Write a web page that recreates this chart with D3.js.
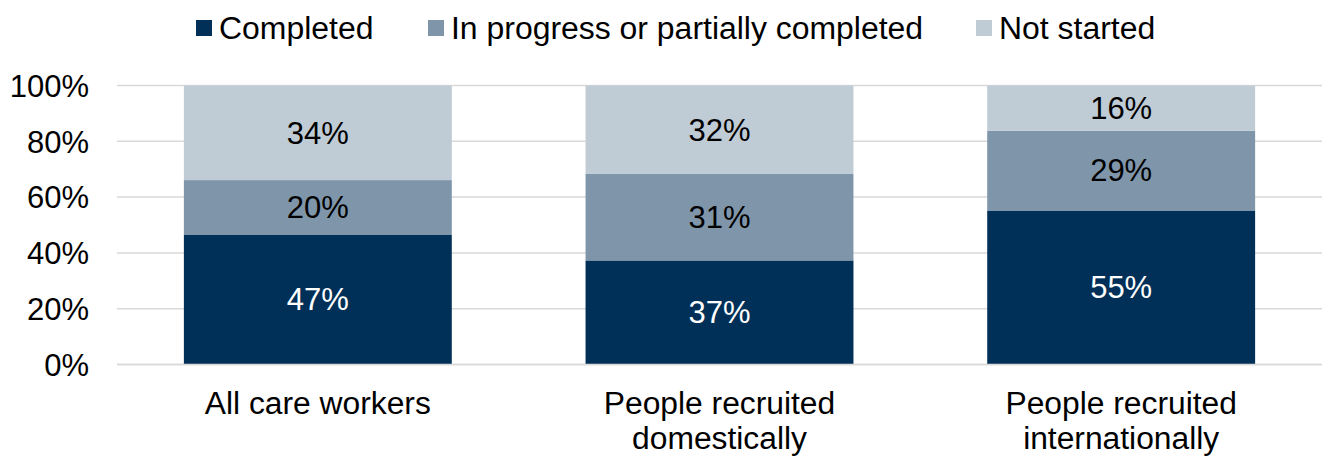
<!DOCTYPE html>
<html><head><meta charset="utf-8">
<script src="https://cdn.jsdelivr.net/npm/d3@7"></script>
<style>body{margin:0;background:#fff}svg{display:block}text{font-family:"Liberation Sans",Arial,sans-serif}</style>
</head><body><svg id="c" width="1323" height="457"></svg>
<script>
const categories = [["All care workers"], ["People recruited", "domestically"], ["People recruited", "internationally"]];
const seriesNames = ["Completed", "In progress or partially completed", "Not started"];
const completed = [46.6, 37.3, 55.2];
const inProgress = [19.5, 31.0, 28.6];
const notStarted = [33.9, 31.7, 16.2];
const yTicks = [0, 20, 40, 60, 80, 100];
const colors = ["#003057", "#7f96aa", "#bfcbd5"];
const labelColors = ["#ffffff", "#000000", "#000000"];
const seriesValues = [completed, inProgress, notStarted];

const svg = d3.select("#c");
const FS = 31;
const x = d3.scaleBand().domain(d3.range(categories.length)).range([117, 1322]).paddingInner(0.333).paddingOuter(0.1665);
const y = d3.scaleLinear().domain([0, 100]).range([364.5, 85.5]);

function stretch(sel, f) {
  sel.each(function() {
    const w = this.getComputedTextLength();
    d3.select(this).attr("textLength", w * f).attr("lengthAdjust", "spacingAndGlyphs");
  });
}

// grid
svg.append("g").selectAll("line").data(yTicks).join("line")
  .attr("x1", 117).attr("x2", 1322).attr("y1", d => y(d)).attr("y2", d => y(d))
  .attr("stroke", "#d9d9d9").attr("stroke-width", 1.5);

// y axis
const yAxis = d3.axisLeft(y).tickValues(yTicks).tickFormat(d => d + "%").tickSize(0).tickPadding(0);
const ya = svg.append("g").attr("transform", "translate(89,0)").call(yAxis);
ya.select(".domain").remove();
ya.selectAll("text").attr("font-size", FS).attr("fill", "#000").attr("font-family", "Liberation Sans, Arial, sans-serif").attr("dy", "0.35em");

// stack
const rows = categories.map((c, i) => ({i, s0: completed[i], s1: inProgress[i], s2: notStarted[i]}));
const stack = d3.stack().keys(["s0", "s1", "s2"]);
const layers = stack(rows);
layers.forEach((layer, k) => {
  const g = svg.append("g");
  g.selectAll("rect").data(layer).join("rect")
    .attr("x", d => x(d.data.i)).attr("width", x.bandwidth())
    .attr("y", d => y(d[1])).attr("height", d => y(d[0]) - y(d[1]))
    .attr("fill", colors[k]);
  g.selectAll("text").data(layer).join("text")
    .attr("x", d => x(d.data.i) + x.bandwidth() / 2)
    .attr("y", d => (y(d[0]) + y(d[1])) / 2)
    .attr("dy", "0.35em").attr("text-anchor", "middle")
    .attr("font-size", FS).attr("fill", labelColors[k])
    .text(d => Math.round(seriesValues[k][d.data.i]) + "%");
});

// x axis baseline
svg.append("line").attr("x1", 117).attr("x2", 1322).attr("y1", y(0)).attr("y2", y(0)).attr("stroke", "#d9d9d9").attr("stroke-width", 1.5);

// x labels
const xl = svg.append("g").selectAll("text").data(categories).join("text")
  .attr("text-anchor", "middle").attr("font-size", FS).attr("fill", "#000")
  .attr("x", (d, i) => x(i) + x.bandwidth() / 2).attr("y", 414);
const ts = xl.selectAll("tspan").data(d => d).join("tspan")
  .attr("x", function(){ return this.parentNode.getAttribute("x"); })
  .attr("dy", (d, j) => j === 0 ? 0 : 35).text(d => d);
stretch(ts, 1.025);

// legend
const legX = [196, 428, 976];
const lg = svg.append("g").selectAll("g").data(seriesNames).join("g")
  .attr("transform", (d, i) => `translate(${legX[i]},0)`);
lg.append("rect").attr("x", 0).attr("y", 20).attr("width", 16).attr("height", 16).attr("fill", (d, i) => colors[i]);
const lt = lg.append("text").attr("x", 23).attr("y", 38.5).attr("font-size", FS).attr("fill", "#000").text(d => d);
stretch(lt, 1.03);
</script></body></html>
